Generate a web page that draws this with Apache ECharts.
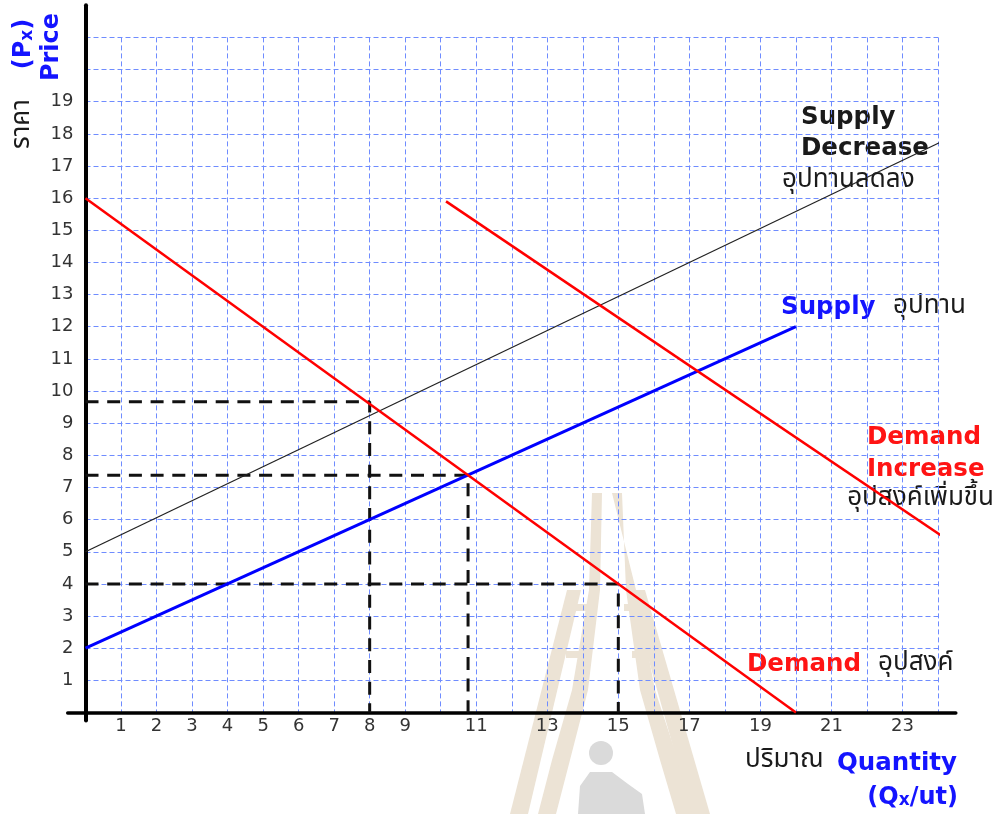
<!DOCTYPE html>
<html>
<head>
<meta charset="utf-8">
<script src="https://cdn.jsdelivr.net/npm/echarts@6/dist/echarts.min.js"></script>
<style>
html,body{margin:0;padding:0;background:#fff;}
#chart{width:998px;height:814px;}
</style>
</head>
<body>
<div id="chart"></div>
<script>
// ---- data ----
const demand = [[0, 16], [20, 0]];
const demandIncrease = [[10.15, 15.9], [24.1, 5.5]];
const supply = [[0, 2], [20, 12]];
const supplyDecrease = [[0, 5], [24.05, 17.73]];
const guideA = [[0, 9.67], [8, 9.67], [8, 0]];
const guideB = [[0, 7.38], [10.77, 7.38], [10.77, 0]];
const guideC = [[0, 4], [15, 4], [15, 0]];
const xTickLabels = [1, 2, 3, 4, 5, 6, 7, 8, 9, 11, 13, 15, 17, 19, 21, 23];
const yTickLabels = [1, 2, 3, 4, 5, 6, 7, 8, 9, 10, 11, 12, 13, 14, 15, 16, 17, 18, 19];

const THAI = '"Noto Sans Thai","Tahoma","Noto Sans","DejaVu Sans",sans-serif';
const BOLD = '"DejaVu Sans","Verdana",sans-serif';
const BLUE = '#1414ff', RED = '#ff1414', DARK = '#1a1a1a';
const gridDash = {color: '#6f8cff', width: 1, type: [5, 3]};

const chart = echarts.init(document.getElementById('chart'));

function lineSeries(data, color, width, dash) {
  return {
    type: 'line', xAxisIndex: 0, yAxisIndex: 0, data: data,
    showSymbol: false, symbol: 'none', clip: false, silent: true,
    lineStyle: {color: color, width: width, type: dash || 'solid', cap: 'butt'},
    animation: false
  };
}

function txt(x, y, text, font, fill, align) {
  return {type: 'text', x: x, y: y, silent: true,
    style: {text: text, font: font, fill: fill, textAlign: align || 'left', textVerticalAlign: 'middle'}};
}

const bold = 'bold 24.5px ' + BOLD;
const thai = '26px ' + THAI;
const WM = '#ece3d5';

const option = {
  animation: false,
  backgroundColor: '#fff',
  grid: [
    {left: 85.5, right: 60, top: 37.4, bottom: 101.5, containLabel: false},
    {left: 67.7, right: 42.2, top: 5.2, bottom: 93.5, containLabel: false}
  ],
  xAxis: [
    {type: 'value', gridIndex: 0, min: 0, max: 24, interval: 1,
     axisLine: {show: false}, axisTick: {show: false},
     splitLine: {show: true, lineStyle: gridDash},
     axisLabel: {show: true, margin: 5, color: '#333', fontSize: 18, fontFamily: BOLD,
       formatter: v => xTickLabels.indexOf(v) >= 0 ? String(v) : ''}},
    {type: 'value', gridIndex: 1, min: -0.5, max: 24.5,
     axisLine: {show: true, onZero: true, lineStyle: {color: '#000', width: 3.5}},
     axisTick: {show: false}, axisLabel: {show: false}, splitLine: {show: false}}
  ],
  yAxis: [
    {type: 'value', gridIndex: 0, min: 0, max: 21, interval: 1,
     axisLine: {show: false}, axisTick: {show: false},
     splitLine: {show: true, lineStyle: gridDash},
     axisLabel: {show: true, margin: 12, color: '#333', fontSize: 18, fontFamily: BOLD,
       formatter: v => yTickLabels.indexOf(v) >= 0 ? String(v) : ''}},
    {type: 'value', gridIndex: 1, min: -0.25, max: 22,
     axisLine: {show: true, onZero: true, lineStyle: {color: '#000', width: 4}},
     axisTick: {show: false}, axisLabel: {show: false}, splitLine: {show: false}}
  ],
  series: [
    lineSeries(guideA, '#111', 3, [13, 8.7]),
    lineSeries(guideB, '#111', 3, [13, 8.7]),
    lineSeries(guideC, '#111', 3, [13, 8.7]),
    lineSeries(supplyDecrease, '#222', 1.3),
    lineSeries(supply, '#0000ff', 3),
    lineSeries(demand, '#ff0000', 2.5),
    lineSeries(demandIncrease, '#ff0000', 2.5)
  ],
  graphic: [
    // faint watermark (logo) in the background
    {type: 'group', z: -10, silent: true, children: [
      {type: 'polygon', shape: {points: [[592,493],[602,493],[600,590],[588,690],[570,760],[556,814],[538,814],[552,760],[572,690],[589,590]]}, style: {fill: WM}},
      {type: 'polygon', shape: {points: [[612,493],[622,493],[626,590],[640,690],[660,760],[676,814],[694,814],[678,760],[655,690],[636,590]]}, style: {fill: WM}},
      {type: 'polygon', shape: {points: [[567,590],[581,590],[528,814],[510,814]]}, style: {fill: WM}},
      {type: 'polygon', shape: {points: [[629,590],[645,590],[710,814],[692,814]]}, style: {fill: WM}},
      {type: 'rect', shape: {x: 574, y: 604, width: 18, height: 7}, style: {fill: WM}},
      {type: 'rect', shape: {x: 566, y: 651, width: 20, height: 7}, style: {fill: WM}},
      {type: 'rect', shape: {x: 624, y: 604, width: 18, height: 7}, style: {fill: WM}},
      {type: 'rect', shape: {x: 632, y: 651, width: 20, height: 7}, style: {fill: WM}},
      {type: 'circle', shape: {cx: 601, cy: 753, r: 12}, style: {fill: '#dadada'}},
      {type: 'polygon', shape: {points: [[578,814],[580,786],[590,772],[612,772],[628,784],[642,794],[645,814]]}, style: {fill: '#dadada'}}
    ]},
    // axis titles
    {type: 'text', x: 52, y: 47, rotation: Math.PI / 2, silent: true,
     style: {text: 'Price', font: 'bold 24px ' + BOLD, fill: BLUE, textAlign: 'center', textVerticalAlign: 'middle'}},
    {type: 'text', x: 24, y: 44, rotation: Math.PI / 2, silent: true,
     style: {text: '{a|(P}{b|x}{a|)}', textAlign: 'center', textVerticalAlign: 'middle',
       rich: {a: {font: 'bold 24px ' + BOLD, fill: BLUE, color: BLUE}, b: {font: 'bold 17px ' + BOLD, fill: BLUE, color: BLUE, padding: [8, 0, 0, 0]}}}},
    {type: 'text', x: 24, y: 124, rotation: Math.PI / 2, silent: true,
     style: {text: 'ราคา', font: thai, fill: DARK, textAlign: 'center', textVerticalAlign: 'middle'}},
    txt(745, 762, 'ปริมาณ', thai, DARK),
    txt(837, 764, 'Quantity', bold, BLUE),
    {type: 'text', x: 958, y: 798, silent: true,
     style: {text: '{a|(Q}{b|x}{a|/ut)}', textAlign: 'right', textVerticalAlign: 'middle',
       rich: {a: {font: 'bold 24px ' + BOLD, fill: BLUE, color: BLUE}, b: {font: 'bold 17px ' + BOLD, fill: BLUE, color: BLUE, padding: [6, 0, 0, 0]}}}},
    // curve labels
    txt(801, 118, 'Supply', bold, DARK),
    txt(801, 149, 'Decrease', bold, DARK),
    txt(782, 182, 'อุปทานลดลง', thai, DARK),
    txt(781, 308, 'Supply', bold, BLUE),
    txt(893, 308, 'อุปทาน', thai, DARK),
    txt(867, 438, 'Demand', bold, RED),
    txt(867, 470, 'Increase', bold, RED),
    txt(994, 500, 'อุปสงค์เพิ่มขึ้น', thai, DARK, 'right'),
    txt(747, 665, 'Demand', bold, RED),
    txt(878, 665, 'อุปสงค์', thai, DARK)
  ]
};
chart.setOption(option);
</script>
</body>
</html>
